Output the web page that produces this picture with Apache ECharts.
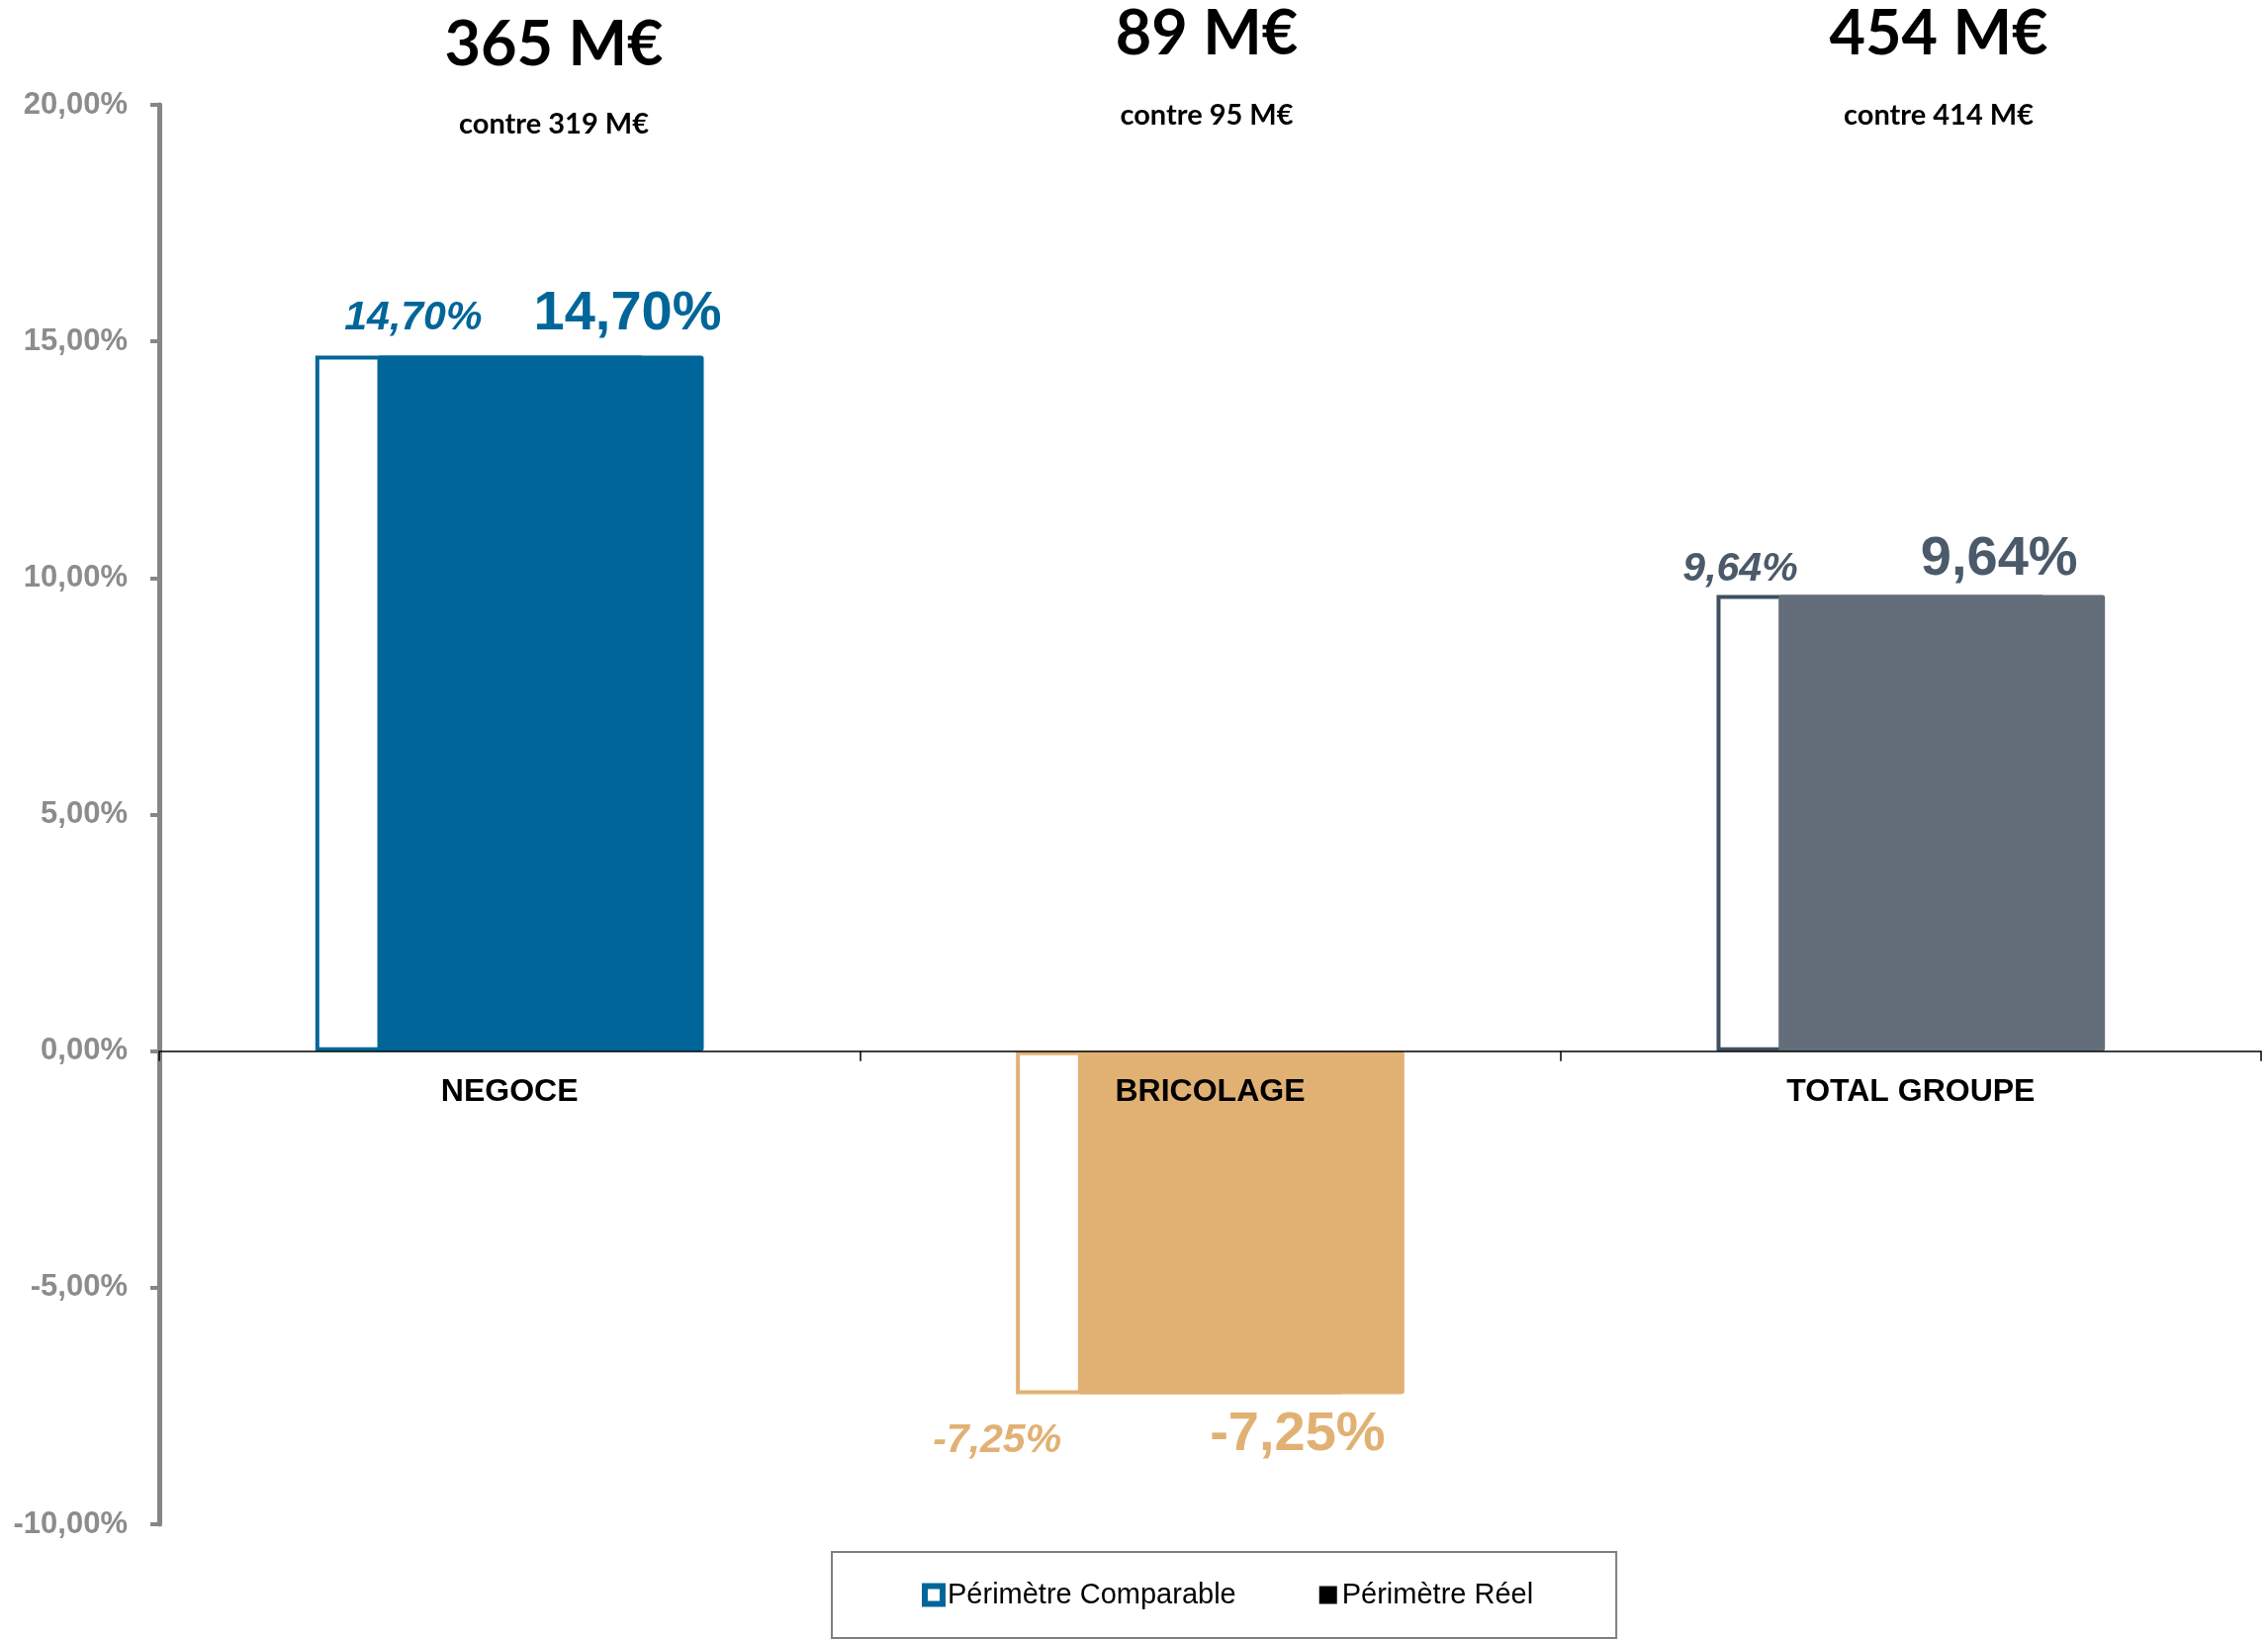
<!DOCTYPE html>
<html>
<head>
<meta charset="utf-8">
<script src="https://cdn.jsdelivr.net/npm/echarts@6/dist/echarts.min.js"></script>
<style>
  html, body { margin: 0; padding: 0; background: #ffffff; }
  #chart { width: 2293px; height: 1658px; }
</style>
</head>
<body>
<div id="chart"></div>
<script>
// ---- data ----
const categories = ['NEGOCE', 'BRICOLAGE', 'TOTAL GROUPE'];
const comparableValues = [14.70, -7.25, 9.64];
const reelValues = [14.70, -7.25, 9.64];
const revenueTotals = ['365 M€', '89 M€', '454 M€'];
const revenuePrevious = ['contre 319 M€', 'contre 95 M€', 'contre 414 M€'];
const seriesNames = ['Périmètre Comparable', 'Périmètre Réel'];
const yMin = -10, yMax = 20, yStep = 5;

// ---- styles (not data) ----
const fillColors = ['#006699', '#E1B174', '#636E7A'];
const outlineColors = ['#006699', '#E1B174', '#3F4F5F'];
const labelColors = ['#006699', '#E1B174', '#4B5A6A'];
const compLabelOffsets = [[-66, -12], [-184, 22], [-141, 0]];
const reelLabelOffsets = [[88, -9], [57, 8], [58, -3]];
const headPos = [[560, 46, 126], [1220, 35, 117], [1960, 35, 117]];

const GRID = { left: 161, right: 7, top: 106, bottom: 117 };
const CH = 1658;
const gridHeight = CH - GRID.top - GRID.bottom;
// move category axis (line, ticks, labels) up to the zero line
const xAxisOffset = -gridHeight * (0 - yMin) / (yMax - yMin);

const fmt = v => v.toFixed(2).replace('.', ',') + '%';
const FONT = "'Liberation Sans', Arial, sans-serif";

const chart = echarts.init(document.getElementById('chart'), null, { renderer: 'canvas' });

const compData = comparableValues.map((v, i) => ({
  value: v,
  itemStyle: { color: '#ffffff', borderColor: outlineColors[i], borderWidth: 4 },
  label: {
    show: true,
    position: v >= 0 ? 'top' : 'bottom',
    offset: compLabelOffsets[i],
    color: labelColors[i],
    fontSize: 41,
    fontWeight: 'bold',
    fontStyle: 'italic',
    fontFamily: FONT,
    formatter: p => fmt(p.value)
  }
}));

const reelData = reelValues.map((v, i) => ({
  value: v,
  itemStyle: { color: fillColors[i], borderRadius: 3 },
  label: {
    show: true,
    position: v >= 0 ? 'top' : 'bottom',
    offset: reelLabelOffsets[i],
    color: labelColors[i],
    fontSize: 56,
    fontWeight: 'bold',
    fontFamily: FONT,
    formatter: p => fmt(p.value)
  }
}));

const graphics = [];
revenueTotals.forEach((t, i) => {
  graphics.push({
    type: 'text', x: headPos[i][0], y: headPos[i][1], z: 100,
    style: { text: t, textAlign: 'center', textVerticalAlign: 'middle',
      font: "bold 63px Lato, 'Open Sans', sans-serif", fill: '#000' }
  });
  graphics.push({
    type: 'text', x: headPos[i][0], y: headPos[i][2], z: 100,
    style: { text: revenuePrevious[i], textAlign: 'center', textVerticalAlign: 'middle',
      font: "bold 29px Lato, 'Open Sans', sans-serif", fill: '#000' }
  });
});

chart.setOption({
  animation: false,
  backgroundColor: '#ffffff',
  grid: { left: GRID.left, right: GRID.right, top: GRID.top, bottom: GRID.bottom, containLabel: false },
  legend: {
    left: 841, top: 1569,
    padding: [29, 84, 29, 91],
    borderColor: '#7f7f7f', borderWidth: 2,
    backgroundColor: '#ffffff',
    itemWidth: 18, itemHeight: 18, itemGap: 84,
    icon: 'rect',
    textStyle: { fontSize: 29, color: '#000', fontFamily: FONT },
    data: [
      { name: seriesNames[0], itemStyle: { color: '#ffffff', borderColor: '#006699', borderWidth: 6 } },
      { name: seriesNames[1], itemStyle: { color: '#000000' } }
    ]
  },
  xAxis: {
    type: 'category',
    data: categories,
    z: 10,
    offset: xAxisOffset,
    axisLine: { onZero: false, lineStyle: { color: '#000', width: 1.5 } },
    axisTick: { show: true, length: 10, lineStyle: { color: '#000', width: 1.5 } },
    axisLabel: { color: '#000', fontSize: 32, fontWeight: 'bold', fontFamily: FONT, margin: 26 },
    splitLine: { show: false }
  },
  yAxis: {
    type: 'value',
    min: yMin, max: yMax, interval: yStep,
    axisLine: { show: true, lineStyle: { color: '#868686', width: 5 } },
    axisTick: { show: true, length: 9, lineStyle: { color: '#868686', width: 4 } },
    axisLabel: { color: '#8C8C8C', fontSize: 31, fontWeight: 'bold', fontFamily: FONT, margin: 32,
      formatter: v => fmt(v) },
    splitLine: { show: false }
  },
  series: [
    { type: 'bar', name: seriesNames[0], barWidth: 330, barGap: '-81%', data: compData, z: 2 },
    { type: 'bar', name: seriesNames[1], barWidth: 330, barGap: '-81%', data: reelData, z: 3 }
  ],
  graphic: graphics
});
</script>
</body>
</html>
